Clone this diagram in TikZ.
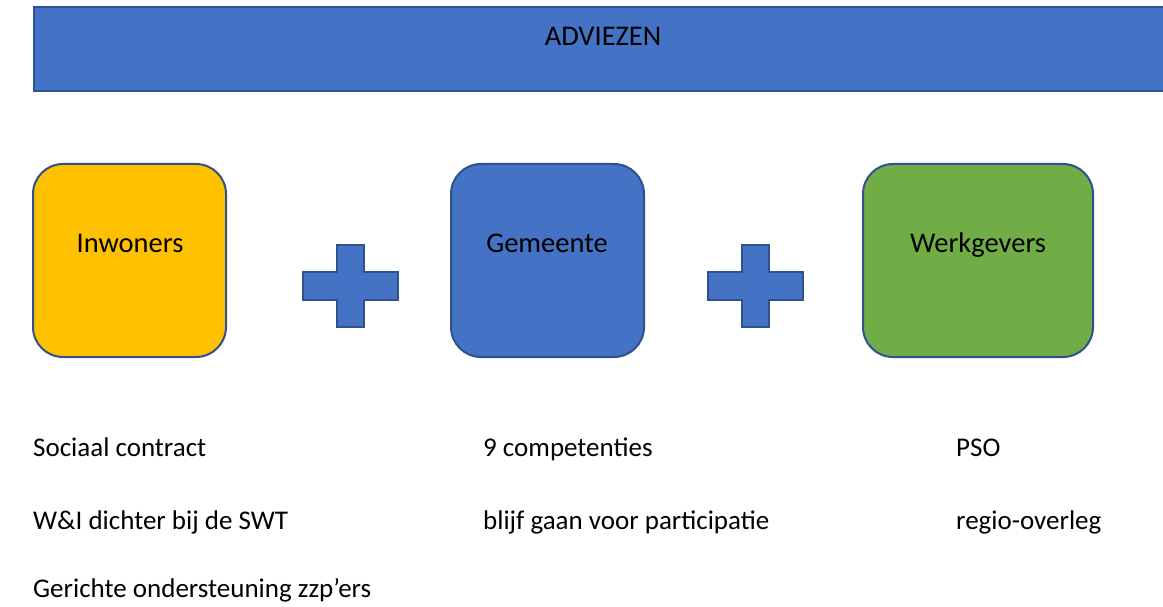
\documentclass[tikz,border=0pt]{standalone}
\usepackage{fontspec}
\setmainfont{Carlito}
\definecolor{bblue}{HTML}{4472C4}
\definecolor{bline}{HTML}{2F528F}
\definecolor{byellow}{HTML}{FFC000}
\definecolor{bgreen}{HTML}{70AD47}
\begin{document}
\begin{tikzpicture}[x=1pt,y=-1pt,
  rbox/.style={draw=bline,line width=2pt,rounded corners=30pt,minimum width=193pt,minimum height=193pt,inner sep=0pt},
  lbl/.style={font=\fontsize{28.5}{34}\selectfont,inner sep=0pt,anchor=base},
  item/.style={font=\fontsize{27}{32}\selectfont,inner sep=0pt,anchor=base west},
  plusshape/.style={draw=bline,fill=bblue,line width=1.5pt},
  crossplus/.pic={\draw[plusshape] (-13.5,-41) -- (13.5,-41) -- (13.5,-14) -- (47.5,-14) -- (47.5,14) -- (13.5,14) -- (13.5,41) -- (-13.5,41) -- (-13.5,14) -- (-47.5,14) -- (-47.5,-14) -- (-13.5,-14) -- cycle;}]
\path[clip] (0,0) rectangle (1163,607);
\fill[white] (0,0) rectangle (1163,607);
% banner
\node[draw=bline,fill=bblue,line width=2pt,minimum width=1150pt,minimum height=84pt,inner sep=0pt,anchor=north west] (banner) at (33,6) {};
\node[lbl] (adv) at (603,46) {ADVIEZEN};
% boxes
\node[rbox,fill=byellow] (inw) at (129.5,260.5) {};
\node[rbox,fill=bblue] (gem) at (547.5,260.5) {};
\node[rbox,fill=bgreen,minimum width=230pt] (wg) at (978,260.5) {};
\node[lbl] (inwl) at (130,252) {Inwoners};
\node[lbl] (geml) at (547,252) {Gemeente};
\node[lbl] (wgl) at (978,252) {Werkgevers};
% plus signs
\coordinate (p1) at (350.5,286);
\coordinate (p2) at (755.5,286);
\pic at (p1) {crossplus};
\pic at (p2) {crossplus};
% items
\node[item] (a1) at (33,456) {Sociaal contract};
\node[item] (a2) at (33,529) {W\&I dichter bij de SWT};
\node[item] (a3) at (33,597) {Gerichte ondersteuning zzp’ers};
\node[item] (b1) at (483,456) {9 competenties};
\node[item] (b2) at (483,529) {blijf gaan voor participatie};
\node[item] (c1) at (956,456) {PSO};
\node[item] (c2) at (956,529) {regio-overleg};
\end{tikzpicture}
\end{document}
